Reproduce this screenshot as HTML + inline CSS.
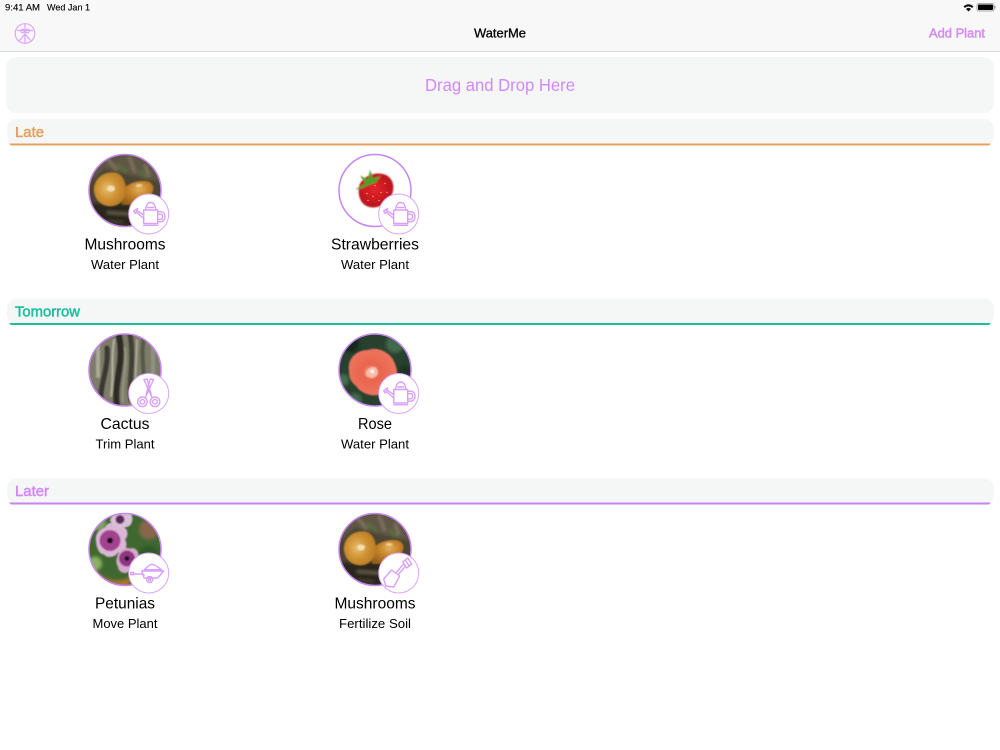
<!DOCTYPE html>
<html><head><meta charset="utf-8"><title>WaterMe</title>
<style>
html,body{margin:0;padding:0;background:#fff;width:1000px;height:750px;overflow:hidden}
svg{display:block}
text{font-family:"Liberation Sans",sans-serif}
.nm{font-size:16px;fill:#000;text-anchor:middle}
.sb{font-size:13px;fill:#000;text-anchor:middle}
.ic{fill:none;stroke:#d9a0f7;stroke-width:1.4;stroke-linejoin:round;stroke-linecap:round}
</style></head><body>
<svg width="1000" height="750" viewBox="0 0 1000 750" xmlns="http://www.w3.org/2000/svg">
<defs>
<filter id="b" x="-10%" y="-10%" width="120%" height="120%"><feGaussianBlur stdDeviation="0.7"/></filter>
<filter id="b2" x="-20%" y="-20%" width="140%" height="140%"><feGaussianBlur stdDeviation="1.5"/></filter>
<clipPath id="c"><circle cx="0" cy="0" r="36"/></clipPath>
<radialGradient id="mg" cx="42%" cy="48%" r="70%"><stop offset="0" stop-color="#e8bd6c"/><stop offset=".45" stop-color="#cf9233"/><stop offset="1" stop-color="#b0721f"/></radialGradient>
<radialGradient id="mg2" cx="55%" cy="35%" r="70%"><stop offset="0" stop-color="#e2b058"/><stop offset=".5" stop-color="#c48128"/><stop offset="1" stop-color="#94601c"/></radialGradient>
<radialGradient id="sg" cx="45%" cy="45%" r="60%"><stop offset="0" stop-color="#e5252b"/><stop offset="1" stop-color="#b5101c"/></radialGradient>
<radialGradient id="rg" cx="45%" cy="50%" r="55%"><stop offset="0" stop-color="#f6a78e"/><stop offset=".3" stop-color="#e9644c"/><stop offset="1" stop-color="#ee7660"/></radialGradient>

<g id="mush"><g clip-path="url(#c)"><rect x="-37" y="-37" width="74" height="74" fill="#4c4534"/>
<g filter="url(#b2)"><path d="M-36-36H36V-8L10-14-20-22-36-8Z" fill="#5f5744"/><path d="M-18-32l10 12M4-34l6 16M20-26l4 12" stroke="#8f826b" stroke-width="2"/><path d="M-8-26l10 8M14-20l8 8" stroke="#56733a" stroke-width="3"/><path d="M-36 13H36V36H-36Z" fill="#2b261b"/><path d="M-18 22l28 2" stroke="#8f846a" stroke-width="1.200"/><path d="M-20 31l18 1" stroke="#5c5443" stroke-width="1.200"/></g>
<g filter="url(#b)"><path d="M-3 2C0-7 13-11 23-9 29-7 30-1 26 4 19 12 6 16-3 14Z" fill="url(#mg2)"/><path d="M-31 1C-32-11-22-19-11-18-3-18 2-8 1 2-1 13-11 18-20 15-26 13-30 8-31 1Z" fill="url(#mg)"/><ellipse cx="-14" cy="-2" rx="4" ry="3" fill="#f3dfb0"/><ellipse cx="14" cy="-5" rx="3.500" ry="1.500" fill="#ecd193"/></g></g></g>

<g id="straw"><circle r="36" fill="#fff"/><g filter="url(#b)"><path d="M-16-4C-13-15 2-20 12-15 20-10 21 2 12 11 5 18-6 19-12 13-16 9-17 2-16-4Z" fill="url(#sg)"/><path d="M-20-1L-10-7-15-15-7-11-5-21-2-12 6-15 1-8-7-5-13-2Z" fill="#4f9f2a"/></g>
<g fill="#f0b838"><circle cx="-8" cy="3" r=".7"/><circle cx="0" cy="-5" r=".7"/><circle cx="6" cy="2" r=".7"/><circle cx="-2" cy="6" r=".7"/><circle cx="10" cy="-7" r=".7"/><circle cx="4" cy="10" r=".7"/><circle cx="-7" cy="10" r=".7"/><circle cx="12" cy="2" r=".7"/></g></g>

<g id="cactus"><g clip-path="url(#c)"><rect x="-37" y="-37" width="74" height="74" fill="#7d7c68"/>
<g filter="url(#b)" fill="none" stroke-linecap="round"><path d="M-27 6V-30" stroke="#a9ab95" stroke-width="4"/><path d="M-24 36C-26 14-16 0-18-22" stroke="#3a3833" stroke-width="5"/><path d="M-8 36C-12 12 0-6-6-34" stroke="#2d2b27" stroke-width="6"/><path d="M6 30C3 12 10-8 5-36" stroke="#3f3f35" stroke-width="5"/><path d="M18 26C21 8 15-12 19-34" stroke="#545949" stroke-width="4"/><path d="M-14 26C-11 8-14-10-11-30" stroke="#b5b7a3" stroke-width="2"/><path d="M12 22C9 6 12-14 12-30" stroke="#aaac98" stroke-width="2"/><path d="M-2 32C-4 14 3-4 0-22" stroke="#9b9d88" stroke-width="1.500"/><path d="M28 24V-26" stroke="#8f9382" stroke-width="4"/></g></g></g>

<g id="rose"><g clip-path="url(#c)"><rect x="-37" y="-37" width="74" height="74" fill="#28402e"/>
<g filter="url(#b2)"><circle cx="-24" cy="-26" r="8" fill="#15261c"/><circle cx="20" cy="-26" r="9" fill="#3f6a4b"/><circle cx="-32" cy="10" r="6" fill="#44704d"/><circle cx="30" cy="2" r="6" fill="#1c3325"/><circle cx="-20" cy="30" r="7" fill="#3f6a48"/></g>
<g filter="url(#b)"><path d="M-26 1C-28-12-18-20-7-20 3-24 17-17 20-6 25 5 21 17 10 22 0 29-14 24-19 16-24 12-26 8-26 1Z" fill="url(#rg)"/><path d="M-9 2C-7-3 0-5 2-1 5 4 1 8-4 8-7 7-10 6-9 2Z" fill="#f7bda8"/><path d="M-5 0l4 0 0 3-3 0Z" fill="#fff"/></g></g></g>

<g id="pet"><g clip-path="url(#c)"><rect x="-37" y="-37" width="74" height="74" fill="#3f6830"/>
<g filter="url(#b2)"><circle cx="24" cy="-20" r="10" fill="#87664c"/><circle cx="24" cy="6" r="10" fill="#2f5a26"/><circle cx="-30" cy="14" r="7" fill="#8ab161"/><path d="M-30 20C-20 34 0 32 6 27L4 40H-30Z" fill="#a87436"/><circle cx="-26" cy="-26" r="7" fill="#7ba55c"/></g>
<g filter="url(#b)"><path d="M-29-9C-30-17-24-21-20-22-17-29-7-28-4-23 2-23 5-15 0-10 4-3-1 4-7 3-10 8-18 9-21 5-26 5-29-3-29-9Z" fill="#dcb6d8"/><circle cx="-15" cy="-9" r="10.500" fill="#a3438f"/><circle cx="-15" cy="-9" r="3" fill="#14101a"/>
<path d="M-8 8C-7 1-1-3 5-1 11-3 15 3 13 9 15 15 11 22 5 21 1 26-7 23-7 17-9 14-9 11-8 8Z" fill="#d5aace"/><circle cx="2" cy="9" r="8" fill="#8e3481"/><circle cx="2" cy="9" r="2.500" fill="#14101a"/>
<path d="M-15-29C-13-37-3-38 3-37 8-36 9-29 5-24-1-20-10-22-15-29Z" fill="#d9c0d8"/><circle cx="-5" cy="-30" r="4.500" fill="#5c2c5a"/></g></g></g>

<g id="can" class="ic"><rect x="-5" y="-4" width="14" height="13.500"/><path d="M-5 11.300H9"/><path d="M-3-4C-3-9-.5-11.500 2-11.500 4.500-11.500 7-9 7-4"/><path d="M-1-6.500H5"/><path d="M9-2.300H12C15-2.300 16.300 0 16.300 2.700 16.300 5.500 14.500 7.700 12 7.700H9M9 .2H12C13.500 .2 14 1.500 14 2.700 14 4 13 5.300 12 5.300H9"/><path d="M-5 1L-12-3.500-11-5.500-15-3-13.500-.5-12.500-2-5 4.500"/></g>
<g id="sci" class="ic"><circle cx="-6.300" cy="8.300" r="4.800"/><circle cx="-6.300" cy="8.300" r="2.300"/><circle cx="6.300" cy="8.300" r="4.800"/><circle cx="6.300" cy="8.300" r="2.300"/><path d="M-3.500 4.500L4.800-14 1.500-14.500-2.500 1"/><path d="M3.500 4.500L-4.800-14-1.500-14.500 2.500 1"/></g>
<g id="bar" class="ic"><path d="M-7-2H15L9 5H-4.500Z"/><path d="M-4.500-3.300C-1-6 1-8.700 3-8.700 6-8.700 10-5.500 12.700-3.300"/><path d="M-4.500-3.300H12.700"/><circle cx="1" cy="6.500" r="3"/><circle cx="1" cy="6.500" r="1"/><path d="M-4.500 2L-8 1H-15.500"/><rect x="-18" y="-.5" width="2.800" height="2.200"/></g>
<g id="shv" class="ic"><path d="M-15 6L-7-3 1 3-5 14-13 13Z"/><path d="M-3 0L5-9M0 1L7-7"/><path d="M4-11L9-15 13-9 8-5Z"/><path d="M6.500-13L10.500-7"/></g>
</defs>

<!-- top bar -->
<rect x="0" y="0" width="1000" height="52" fill="#f8f8f8"/>
<rect x="0" y="51" width="1000" height="1" fill="#d9d9d9"/>
<text x="5" y="10.500" font-size="9.500" fill="#000" textLength="35" lengthAdjust="spacingAndGlyphs" stroke="#000" stroke-width=".12">9:41 AM</text>
<text x="47" y="10.500" font-size="9.500" fill="#000" textLength="43" lengthAdjust="spacingAndGlyphs" stroke="#000" stroke-width=".12">Wed Jan 1</text>
<path d="M963.500 6.500C966.500 3.500 970.500 3.500 973.500 6.500L972 8C970 6 967 6 965 8Z" fill="#111"/><path d="M966 9C967.500 7.500 969.500 7.500 971 9L968.500 11.500Z" fill="#111"/>
<rect x="977" y="3.500" width="17" height="7.500" rx="2" fill="none" stroke="#8e8e8e" stroke-width=".8"/><rect x="978" y="4.500" width="15" height="5.500" rx="1" fill="#000"/><rect x="994.500" y="6" width="1" height="2.500" fill="#8e8e8e"/>

<g fill="none" stroke="#dba6f8" stroke-width="1.200"><circle cx="25" cy="33.500" r="9.800"/><path d="M25 24V43.500M25 34L19.500 40.500M25 34L30.500 40.500M17 30.500H33"/><circle cx="22.500" cy="31" r="1.800"/><circle cx="27.500" cy="31" r="1.800"/></g>
<text x="500" y="37.500" font-size="13" fill="#000" text-anchor="middle" textLength="52" lengthAdjust="spacingAndGlyphs" stroke="#000" stroke-width=".3">WaterMe</text>
<text x="957" y="37.500" font-size="13" fill="#d388f7" text-anchor="middle" textLength="56" lengthAdjust="spacingAndGlyphs" stroke="#d388f7" stroke-width=".45">Add Plant</text>

<!-- drop -->
<rect x="6" y="57" width="988" height="56" rx="10" fill="#f5f6f6"/>
<text x="500" y="91" font-size="17.500" fill="#d388f7" text-anchor="middle" textLength="150" lengthAdjust="spacingAndGlyphs">Drag and Drop Here</text>

<!-- headers -->
<rect x="7" y="119" width="987" height="26" rx="10" fill="#f5f6f6"/>
<path d="M9 143.500H991L989 145.500H11Z" fill="#e1a163"/>
<text x="15" y="137" font-size="15" fill="#e1a163" stroke="#e1a163" stroke-width=".5" textLength="29" lengthAdjust="spacingAndGlyphs">Late</text>

<rect x="7" y="298.500" width="987" height="26" rx="10" fill="#f5f6f6"/>
<path d="M9 323H991L989 325H11Z" fill="#1cbf9c"/>
<text x="15" y="316.500" font-size="15" fill="#1cbf9c" stroke="#1cbf9c" stroke-width=".5" textLength="65" lengthAdjust="spacingAndGlyphs">Tomorrow</text>

<rect x="7" y="478" width="987" height="26" rx="10" fill="#f5f6f6"/>
<path d="M9 502.500H991L989 504.500H11Z" fill="#c982ee"/>
<text x="15" y="496" font-size="15" fill="#d388f7" stroke="#d388f7" stroke-width=".5" textLength="34" lengthAdjust="spacingAndGlyphs">Later</text>

<!-- Row 1 -->
<g transform="translate(125 190.500)"><use href="#mush"/><circle r="36" fill="none" stroke="#c586ee" stroke-width="1.500"/><circle cx="23.700" cy="23.500" r="20" fill="#fff" stroke="#dba6f8" stroke-width="1"/><use href="#can" x="23.700" y="23.500"/></g>
<text class="nm" x="125" y="249.500" textLength="81" lengthAdjust="spacingAndGlyphs">Mushrooms</text><text class="sb" x="125" y="269" textLength="68" lengthAdjust="spacingAndGlyphs">Water Plant</text>

<g transform="translate(375 190.500)"><use href="#straw"/><circle r="36" fill="none" stroke="#c586ee" stroke-width="1.500"/><circle cx="23.700" cy="23.500" r="20" fill="#fff" stroke="#dba6f8" stroke-width="1"/><use href="#can" x="23.700" y="23.500"/></g>
<text class="nm" x="375" y="249.500" textLength="88" lengthAdjust="spacingAndGlyphs">Strawberries</text><text class="sb" x="375" y="269" textLength="68" lengthAdjust="spacingAndGlyphs">Water Plant</text>

<!-- Row 2 -->
<g transform="translate(125 370)"><use href="#cactus"/><circle r="36" fill="none" stroke="#c586ee" stroke-width="1.500"/><circle cx="23.700" cy="23.500" r="20" fill="#fff" stroke="#dba6f8" stroke-width="1"/><use href="#sci" x="23.700" y="23.500"/></g>
<text class="nm" x="125" y="429" textLength="49" lengthAdjust="spacingAndGlyphs">Cactus</text><text class="sb" x="125" y="448.500" textLength="59" lengthAdjust="spacingAndGlyphs">Trim Plant</text>

<g transform="translate(375 370)"><use href="#rose"/><circle r="36" fill="none" stroke="#c586ee" stroke-width="1.500"/><circle cx="23.700" cy="23.500" r="20" fill="#fff" stroke="#dba6f8" stroke-width="1"/><use href="#can" x="23.700" y="23.500"/></g>
<text class="nm" x="375" y="429" textLength="34" lengthAdjust="spacingAndGlyphs">Rose</text><text class="sb" x="375" y="448.500" textLength="68" lengthAdjust="spacingAndGlyphs">Water Plant</text>

<!-- Row 3 -->
<g transform="translate(125 549.500)"><use href="#pet"/><circle r="36" fill="none" stroke="#c586ee" stroke-width="1.500"/><circle cx="23.700" cy="23.500" r="20" fill="#fff" stroke="#dba6f8" stroke-width="1"/><use href="#bar" x="23.700" y="23.500"/></g>
<text class="nm" x="125" y="608.500" textLength="60" lengthAdjust="spacingAndGlyphs">Petunias</text><text class="sb" x="125" y="628" textLength="65" lengthAdjust="spacingAndGlyphs">Move Plant</text>

<g transform="translate(375 549.500)"><use href="#mush"/><circle r="36" fill="none" stroke="#c586ee" stroke-width="1.500"/><circle cx="23.700" cy="23.500" r="20" fill="#fff" stroke="#dba6f8" stroke-width="1"/><use href="#shv" x="23.700" y="23.500"/></g>
<text class="nm" x="375" y="608.500" textLength="81" lengthAdjust="spacingAndGlyphs">Mushrooms</text><text class="sb" x="375" y="628" textLength="72" lengthAdjust="spacingAndGlyphs">Fertilize Soil</text>
</svg>
</body></html>
